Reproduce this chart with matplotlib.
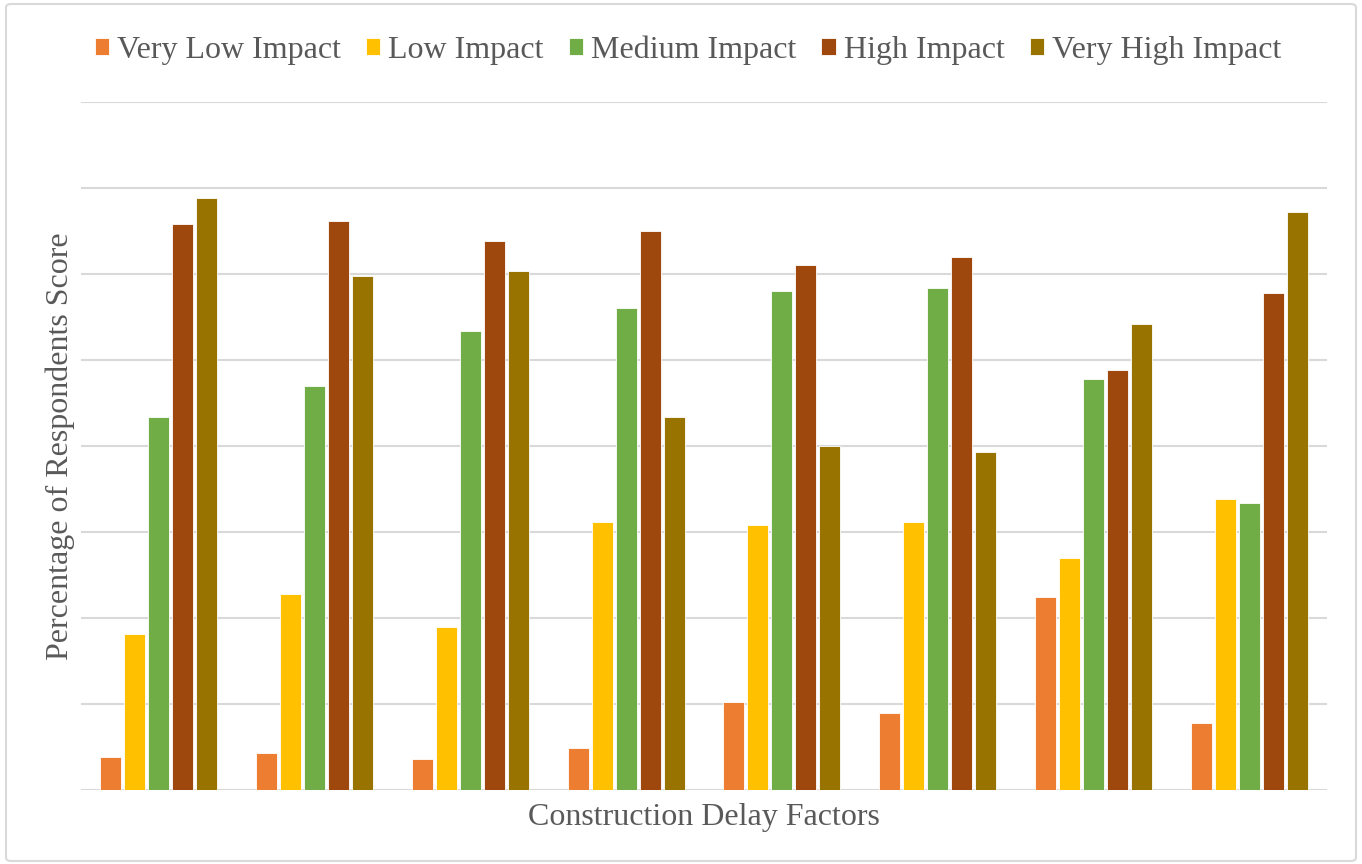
import numpy as np
import matplotlib.pyplot as plt
from matplotlib.patches import FancyBboxPatch

plt.rcParams['font.family'] = ['Liberation Serif', 'DejaVu Serif']

series = ["Very Low Impact", "Low Impact", "Medium Impact", "High Impact", "Very High Impact"]
colors = ["#ED7D31", "#FFC000", "#70AD47", "#9E480E", "#997300"]

# percentage of respondents per factor (8 delay factors)
very_low = [1.9, 2.15, 1.8, 2.45, 5.1, 4.5, 11.2, 3.9]
low = [9.05, 11.4, 9.5, 15.6, 15.4, 15.6, 13.5, 16.9]
medium = [21.7, 23.5, 26.7, 28.0, 29.0, 29.2, 23.9, 16.7]
high = [32.9, 33.1, 31.9, 32.5, 30.5, 31.0, 24.4, 28.9]
very_high = [34.4, 29.9, 30.2, 21.7, 20.0, 19.65, 27.1, 33.6]

values = [very_low, low, medium, high, very_high]
x = np.arange(len(very_low))

fig = plt.figure(figsize=(13.62, 8.64), dpi=100)
ax = fig.add_axes([81/1362, 1 - 790/864, (1327 - 81)/1362, (790 - 102)/864])

step = 0.154
for i, (name, vals, c) in enumerate(zip(series, values, colors)):
    ax.bar(x + (i - 2) * step, vals, width=0.135, color=c, edgecolor="#ffffff",
           linewidth=0.6, label=name, zorder=3)

ax.set_xlim(-0.5, len(x) - 0.5)
ax.set_ylim(0, 40)
ax.set_yticks(np.arange(0, 41, 5))
ax.set_xticks([])
ax.tick_params(left=False, labelleft=False)
ax.grid(axis="y", color="#d9d9d9", linewidth=1.5, zorder=0)
for s in ax.spines.values():
    s.set_visible(False)

txt = "#595959"
fig.text(60/1362, 1 - 446/864, "Percentage of Respondents Score", rotation=90,
         ha="center", va="center", fontsize=23, color=txt)
fig.text(704/1362, 1 - 817/864, "Construction Delay Factors",
         ha="center", va="center", fontsize=23, color=txt)

fig.legend(loc="center", bbox_to_anchor=(688/1362, 1 - 50/864), ncol=5, frameon=False,
           fontsize=23, handlelength=0.45, handleheight=0.45, handletextpad=0.25,
           columnspacing=0.78, labelcolor=txt)

border = FancyBboxPatch((6/1362, 3/864), 1350/1362, 857/864, boxstyle="round,pad=0,rounding_size=0.004",
                        transform=fig.transFigure, fill=False, edgecolor="#d9d9d9", linewidth=1.5)
fig.patches.append(border)

fig.savefig("out.png", dpi=100)
